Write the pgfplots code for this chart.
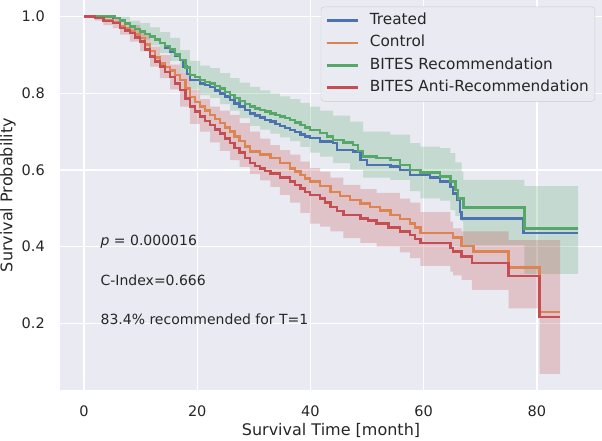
\documentclass[border=0pt]{standalone}
\usepackage{fontspec}
\setmainfont{DejaVu Sans}
\usepackage{pgfplots}
\usepackage{pgfplotstable}
\pgfplotsset{compat=1.18}
\usepgfplotslibrary{fillbetween}

\definecolor{axbg}{HTML}{EAEAF2}
\definecolor{sblue}{HTML}{4C72B0}
\definecolor{sorange}{HTML}{DD8452}
\definecolor{sgreen}{HTML}{55A868}
\definecolor{sred}{HTML}{C44E52}
\definecolor{txt}{HTML}{262626}
\definecolor{legedge}{HTML}{CCCCCC}

% Kaplan-Meier curves (month, survival)
\pgfplotstableread{
t s
0 1.000
5.1 0.996
6.4 0.990
7.2 0.982
8.1 0.974
9.0 0.968
9.9 0.961
10.8 0.955
11.7 0.948
12.5 0.940
13.4 0.931
14.3 0.920
15.2 0.908
16.1 0.898
17.0 0.887
17.5 0.870
18.2 0.850
18.7 0.835
20.5 0.826
21.4 0.822
22.3 0.817
23.1 0.808
24.0 0.800
24.9 0.792
25.8 0.783
26.6 0.774
27.5 0.765
28.4 0.756
29.3 0.748
30.2 0.742
31.1 0.737
32.0 0.731
32.9 0.726
33.8 0.720
34.6 0.715
35.5 0.709
36.4 0.704
37.3 0.699
38.2 0.693
39.0 0.688
39.9 0.683
41.7 0.674
44.0 0.670
44.7 0.652
47.5 0.648
48.8 0.626
50.0 0.613
54.1 0.609
55.8 0.600
57.6 0.587
61.1 0.581
62.9 0.570
64.7 0.556
65.2 0.539
65.9 0.522
66.4 0.491
66.7 0.474
77.6 0.436
87.3 0.436
}\treated

\pgfplotstableread{
t s
0 1.000
1.9 0.996
3.4 0.990
5.1 0.986
6.4 0.975
7.2 0.969
8.1 0.962
9.0 0.954
9.9 0.945
10.8 0.928
11.7 0.910
12.5 0.894
13.4 0.878
14.3 0.869
15.2 0.860
16.1 0.848
17.0 0.835
17.9 0.812
18.7 0.790
19.6 0.778
20.5 0.765
21.4 0.755
22.3 0.744
23.1 0.733
24.0 0.722
24.9 0.711
25.8 0.700
26.6 0.688
27.5 0.675
28.4 0.661
29.3 0.648
31.1 0.640
32.9 0.631
34.6 0.618
36.4 0.604
37.3 0.596
38.2 0.587
39.0 0.578
39.9 0.570
41.7 0.558
43.5 0.543
45.2 0.532
47.0 0.522
48.8 0.513
50.5 0.504
52.3 0.494
54.1 0.483
55.8 0.472
57.6 0.461
58.5 0.450
59.4 0.436
65.2 0.424
66.7 0.402
68.8 0.387
75.0 0.346
80.5 0.230
84.1 0.230
}\control

\pgfplotstableread{
t s
0 1.000
5.5 0.996
6.4 0.990
7.2 0.982
8.1 0.974
9.0 0.968
9.9 0.961
10.8 0.955
11.7 0.948
12.5 0.940
13.4 0.931
14.3 0.923
15.2 0.915
16.1 0.901
17.0 0.887
17.9 0.868
18.7 0.848
19.6 0.842
20.5 0.835
21.4 0.830
22.3 0.826
23.1 0.819
24.0 0.812
24.9 0.804
25.8 0.796
26.6 0.788
27.5 0.780
28.4 0.772
29.3 0.765
30.2 0.760
31.1 0.756
32.0 0.752
32.9 0.748
33.8 0.744
34.6 0.739
35.5 0.735
36.4 0.730
37.3 0.724
38.2 0.717
39.0 0.711
39.9 0.704
41.7 0.696
42.9 0.687
44.0 0.678
45.8 0.672
47.5 0.665
48.4 0.650
49.3 0.635
51.7 0.631
54.1 0.626
55.8 0.613
57.6 0.600
59.4 0.593
62.9 0.583
64.7 0.570
65.6 0.548
66.1 0.526
67.0 0.502
77.8 0.448
87.3 0.448
}\rec

\pgfplotstableread{
t s
0 1.000
1.9 0.996
3.4 0.989
5.1 0.984
6.4 0.971
7.2 0.964
8.1 0.957
9.0 0.946
9.9 0.935
10.8 0.915
11.7 0.896
12.5 0.883
13.4 0.870
14.3 0.856
15.2 0.843
16.1 0.826
17.0 0.809
17.9 0.787
18.7 0.765
19.6 0.752
20.5 0.739
21.4 0.728
22.3 0.717
23.1 0.706
24.0 0.695
24.9 0.682
25.8 0.670
26.6 0.657
27.5 0.645
28.4 0.631
29.3 0.618
30.2 0.611
31.1 0.604
32.0 0.598
32.9 0.591
34.6 0.580
36.4 0.570
37.3 0.561
38.2 0.552
39.0 0.543
39.9 0.535
41.7 0.526
42.6 0.515
43.5 0.504
44.7 0.493
45.8 0.483
48.8 0.474
50.2 0.468
51.7 0.461
53.8 0.450
55.8 0.439
57.6 0.430
58.5 0.420
59.4 0.409
64.7 0.396
65.2 0.387
66.7 0.374
68.5 0.357
75.0 0.324
80.5 0.217
84.1 0.217
}\antirec

% confidence bands (month, upper, lower)
\pgfplotstableread{
t up lo
0 1.000 1.000
5.5 1.000 0.990
8.1 0.990 0.955
9.9 0.983 0.940
11.7 0.972 0.925
13.4 0.960 0.905
15.2 0.945 0.885
17.0 0.913 0.853
18.7 0.885 0.810
20.5 0.872 0.795
22.3 0.866 0.788
24.0 0.853 0.772
25.8 0.840 0.755
27.5 0.828 0.735
29.3 0.817 0.715
31.1 0.808 0.705
32.9 0.800 0.695
34.6 0.792 0.685
36.4 0.785 0.675
38.2 0.775 0.660
39.9 0.765 0.645
41.7 0.755 0.635
44.0 0.742 0.618
47.0 0.726 0.600
49.3 0.700 0.580
54.1 0.692 0.574
57.6 0.670 0.545
59.4 0.661 0.526
62.9 0.657 0.520
64.7 0.644 0.496
65.6 0.620 0.480
66.7 0.596 0.465
67.0 0.574 0.404
77.8 0.558 0.329
87.3 0.558 0.329
}\recband

\pgfplotstableread{
t up lo
0 1.000 1.000
1.9 1.000 0.990
3.4 0.998 0.978
5.1 0.995 0.970
6.4 0.988 0.953
8.1 0.978 0.935
9.9 0.958 0.910
11.7 0.922 0.870
13.4 0.900 0.840
15.2 0.875 0.810
17.0 0.853 0.765
18.7 0.809 0.720
20.5 0.785 0.700
22.3 0.765 0.672
24.0 0.755 0.650
25.8 0.744 0.626
27.5 0.722 0.608
29.3 0.700 0.590
31.1 0.682 0.573
32.9 0.665 0.556
34.6 0.652 0.535
36.4 0.640 0.515
38.2 0.622 0.488
39.9 0.605 0.460
41.7 0.596 0.452
43.5 0.580 0.440
45.8 0.561 0.422
48.8 0.550 0.410
51.7 0.540 0.400
55.8 0.525 0.385
57.6 0.515 0.370
59.4 0.490 0.350
64.7 0.465 0.335
65.2 0.448 0.325
66.7 0.440 0.313
68.5 0.440 0.287
75.0 0.417 0.239
80.5 0.417 0.068
84.1 0.417 0.068
}\antiband

\begin{document}
\begin{tikzpicture}
\begin{axis}[
    at={(0,0)}, anchor=south west,
    scale only axis,
    width=542pt, height=390pt,
    xmin=-4.24, xmax=91.5,
    ymin=0.026, ymax=1.0435,
    xtick={0,20,40,60,80},
    ytick={0.2,0.4,0.6,0.8,1.0},
    axis background/.style={fill=axbg},
    axis line style={draw=none},
    tick style={draw=none},
    grid=major,
    major grid style={white, line width=1.3pt},
    /pgf/number format/assume math mode=true,
    ticklabel style={font=\fontsize{14.5}{17}\selectfont, text=txt},
    yticklabel style={anchor=east, inner sep=0pt, xshift=-15pt,
        /pgf/number format/.cd, fixed, fixed zerofill, precision=1},
    xticklabel style={anchor=center, inner sep=0pt, yshift=-21.7pt},
    xlabel={Survival Time [month]},
    ylabel={Survival Probability},
    every axis x label/.style={at={(axis description cs:0.5,-0.1026)}, anchor=center,
        font=\fontsize{16}{19}\selectfont, text=txt},
    every axis y label/.style={at={(axis description cs:-0.0959,0.5)}, anchor=center, rotate=90,
        font=\fontsize{16}{19}\selectfont, text=txt},
    legend image code/.code={\draw[#1] (0pt,0pt) -- (31.6pt,0pt);},
    legend style={at={(1,1)}, anchor=north east, xshift=-7pt, yshift=-6.7pt,
        fill=axbg, draw=legedge, rounded corners=3pt,
        font=\fontsize{15.3}{18}\selectfont, text=txt,
        inner xsep=4.5pt, inner ysep=5pt,
        row sep=4.8pt, column sep=8.7pt,
        nodes={inner sep=1.5pt, text height=11pt, text depth=3.5pt}},
    legend cell align=left,
]
% confidence bands
\addplot[name path=gu, draw=none, const plot, forget plot] table[x=t, y=up]{\recband};
\addplot[name path=gl, draw=none, const plot, forget plot] table[x=t, y=lo]{\recband};
\addplot[fill=sgreen, fill opacity=0.25, draw=none, forget plot] fill between[of=gu and gl];
\addplot[name path=ru, draw=none, const plot, forget plot] table[x=t, y=up]{\antiband};
\addplot[name path=rl, draw=none, const plot, forget plot] table[x=t, y=lo]{\antiband};
\addplot[fill=sred, fill opacity=0.25, draw=none, forget plot] fill between[of=ru and rl];

% survival curves
\addplot[sblue, line width=2.5pt, const plot] table[x=t, y=s]{\treated};
\addlegendentry{Treated}
\addplot[sorange, line width=2.5pt, const plot] table[x=t, y=s]{\control};
\addlegendentry{Control}
\addplot[sgreen, line width=2.5pt, const plot] table[x=t, y=s]{\rec};
\addlegendentry{BITES Recommendation}
\addplot[sred, line width=2.5pt, const plot] table[x=t, y=s]{\antirec};
\addlegendentry{BITES Anti-Recommendation}

\node[anchor=west, inner sep=0pt, font=\fontsize{14}{16}\selectfont, text=txt] at (axis cs:2.9,0.413) {{\itshape p} = 0.000016};
\node[anchor=west, inner sep=0pt, font=\fontsize{14}{16}\selectfont, text=txt] at (axis cs:2.9,0.313) {C-Index=0.666};
\node[anchor=west, inner sep=0pt, font=\fontsize{14}{16}\selectfont, text=txt] at (axis cs:2.9,0.210) {83.4\% recommended for T=1};
\end{axis}
\pgfresetboundingbox
\path[use as bounding box] (-60pt,-50pt) rectangle (542pt,390pt);
\end{tikzpicture}
\end{document}
